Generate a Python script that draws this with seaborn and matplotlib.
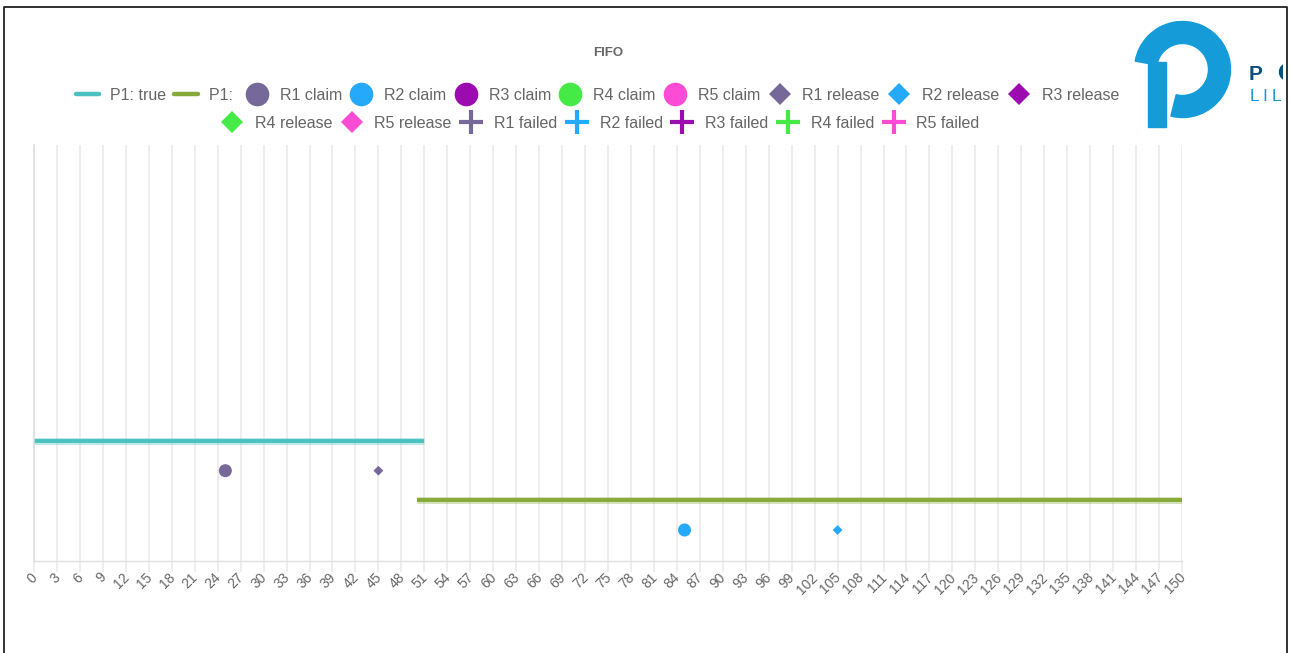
import numpy as np
import pandas as pd
import matplotlib
matplotlib.use("Agg")
import matplotlib.pyplot as plt
import seaborn as sns
from matplotlib.lines import Line2D
from matplotlib.patches import Wedge, Rectangle

# ---------------- data ----------------
x_ticks = list(range(0, 151, 3))

process_labels = ["P1: true", "P1: "]
process_start = [0, 50]
process_end = [51, 150]
process_level = [4, 2]
process_colors = ["#4BC0C0", "#86A93A"]

resources = ["R1", "R2", "R3", "R4", "R5"]
resource_colors = ["#76699A", "#25AAFB", "#9C0BB0", "#45EA47", "#FC4BD4"]

claim_resource = ["R1", "R2"]
claim_time = [25, 85]
claim_level = [3, 1]

release_resource = ["R1", "R2"]
release_time = [45, 105]
release_level = [3, 1]

# ---------------- style ----------------
sns.set_style("white")
plt.rcParams["font.family"] = ["Liberation Sans", "DejaVu Sans"]
W, H = 1290, 653
fig = plt.figure(figsize=(W / 100, H / 100), dpi=100)
fig.patch.set_facecolor("white")

ax = fig.add_axes([34 / W, (H - 561) / H, 1148 / W, 416 / H])

# process segments
seg_rows = []
for lab, s, e, lv in zip(process_labels, process_start, process_end, process_level):
    seg_rows.append({"label": lab, "time": s, "level": lv})
    seg_rows.append({"label": lab, "time": e, "level": lv})
seg_df = pd.DataFrame(seg_rows)
pal_proc = dict(zip(process_labels, process_colors))
sns.lineplot(data=seg_df, x="time", y="level", hue="label", palette=pal_proc,
             lw=5.0, alpha=0.35, legend=False, sort=False, estimator=None, ax=ax,
             solid_capstyle="butt")
sns.lineplot(data=seg_df, x="time", y="level", hue="label", palette=pal_proc,
             lw=2.8, legend=False, sort=False, estimator=None, ax=ax,
             solid_capstyle="butt")

pal_res = dict(zip(resources, resource_colors))
claims_df = pd.DataFrame({"resource": claim_resource, "time": claim_time, "level": claim_level})
release_df = pd.DataFrame({"resource": release_resource, "time": release_time, "level": release_level})
sns.scatterplot(data=claims_df, x="time", y="level", hue="resource", palette=pal_res,
                marker="o", s=88, edgecolor="none", legend=False, ax=ax, zorder=5)
sns.scatterplot(data=release_df, x="time", y="level", hue="resource", palette=pal_res,
                marker="D", s=25, edgecolor="none", legend=False, ax=ax, zorder=5)

ax.set_xlim(0, 150)
ax.set_ylim(-0.045, 13.98)
ax.set_xticks(x_ticks)
ax.set_xticklabels([str(t) for t in x_ticks])
ax.set_yticks([])
ax.set_xlabel("")
ax.set_ylabel("")
ax.grid(axis="x", color="#e9e9e9", lw=1.1)
ax.set_axisbelow(True)
ax.tick_params(axis="x", length=8, width=1.1, color="#e9e9e9", pad=1.5,
               labelsize=10, labelcolor="#666666", bottom=True)
for lab in ax.get_xticklabels():
    lab.set_rotation(45)
    lab.set_ha("right")
    lab.set_va("center_baseline")
    lab.set_rotation_mode("anchor")
for side in ["top", "right"]:
    ax.spines[side].set_visible(False)
ax.spines["bottom"].set_color("#e0e0e0")
ax.spines["bottom"].set_linewidth(1.0)
ax.spines["left"].set_color("#dcdcdc")
ax.spines["left"].set_linewidth(1.1)

# title
fig.text(608 / W, 1 - 53.5 / H, "FIFO", ha="center", va="center",
         fontsize=9.5, fontweight="bold", color="#666666")

# legends (two rows)
def line_h(c):
    return Line2D([], [], color=c, lw=3.2)

def mk_h(c, m, ms, mew=0):
    return Line2D([], [], color=c, marker=m, linestyle="none", markersize=ms,
                  markeredgewidth=mew, markeredgecolor=c if mew else "none")

row1_h = [line_h(process_colors[0]), line_h(process_colors[1])]
row1_l = [process_labels[0], process_labels[1]]
for r, c in zip(resources, resource_colors):
    row1_h.append(mk_h(c, "o", 17))
    row1_l.append(f"{r} claim")
for r, c in zip(resources[:3], resource_colors[:3]):
    row1_h.append(mk_h(c, "D", 11))
    row1_l.append(f"{r} release")
row2_h, row2_l = [], []
for r, c in zip(resources[3:], resource_colors[3:]):
    row2_h.append(mk_h(c, "D", 11))
    row2_l.append(f"{r} release")
for r, c in zip(resources, resource_colors):
    row2_h.append(mk_h(c, "+", 17, 3))
    row2_l.append(f"{r} failed")

leg_kw = dict(frameon=False, fontsize=11.5, handlelength=1.45, handletextpad=0.7,
              columnspacing=0.5, borderpad=0, borderaxespad=0, loc="center",
              labelcolor="#666666")
leg1 = fig.legend(row1_h, row1_l, ncol=len(row1_h),
                  bbox_to_anchor=(597.5 / W, 1 - 95.5 / H), **leg_kw)
leg2 = fig.legend(row2_h, row2_l, ncol=len(row2_h),
                  bbox_to_anchor=(600 / W, 1 - 123.5 / H), **leg_kw)

# logo (clipped at right border)
axl = fig.add_axes([0, 0, 1283 / W, 1], zorder=10)
axl.set_xlim(0, 1283)
axl.set_ylim(0, H)
axl.axis("off")
axl.patch.set_alpha(0)
logo_blue = "#159cd8"
logo_dark = "#0b4f7f"
axl.add_patch(Wedge((1182.5, H - 69.5), 48, -104, 170, width=22, color=logo_blue))
axl.add_patch(Rectangle((1148, H - 127), 18, 65, color=logo_blue))
axl.text(1249, H - 80, "P", fontsize=15, fontweight="bold", color=logo_dark,
         ha="left", va="baseline")
# left part of the (clipped) second logo letter
axl.add_patch(Wedge((1288, H - 72), 8.5, 100, 260, width=3.2, color=logo_dark))
for xx, ch in zip([1250, 1262.5, 1271.5], "LIL"):
    axl.text(xx, H - 101, ch, fontsize=12.5, color="#1a9ad7",
             ha="left", va="baseline")

# border
fig.add_artist(Line2D([4 / W, 4 / W, 1287 / W, 1287 / W], [0, 1 - 7 / H, 1 - 7 / H, 0],
                      transform=fig.transFigure, color="#222222", lw=1.3))

fig.savefig("out.png", dpi=100, facecolor="white")
